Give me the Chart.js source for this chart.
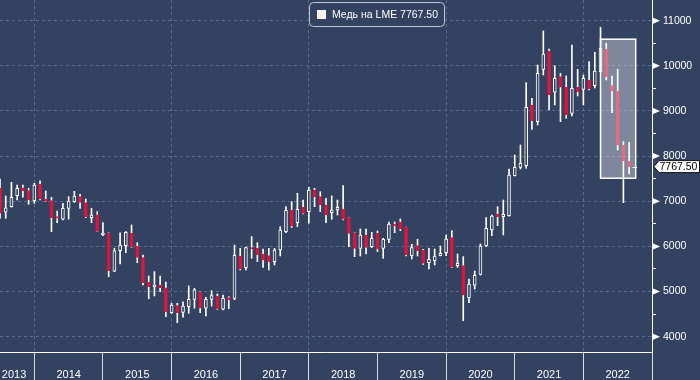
<!DOCTYPE html>
<html><head><meta charset="utf-8">
<script src="https://cdn.jsdelivr.net/npm/chart.js@4.4.0/dist/chart.umd.min.js"></script>
<style>html,body{margin:0;padding:0;background:#334261;overflow:hidden}#wrap{width:700px;height:380px;position:relative}</style>
</head><body><div id="wrap"><canvas id="c" width="700" height="380"></canvas></div>
<script>
// ---- data (monthly candles, LME copper) ----
const months = [
 '2013-06','2013-07','2013-08','2013-09','2013-10','2013-11','2013-12',
 '2014-01','2014-02','2014-03','2014-04','2014-05','2014-06','2014-07','2014-08','2014-09','2014-10','2014-11','2014-12',
 '2015-01','2015-02','2015-03','2015-04','2015-05','2015-06','2015-07','2015-08','2015-09','2015-10','2015-11','2015-12',
 '2016-01','2016-02','2016-03','2016-04','2016-05','2016-06','2016-07','2016-08','2016-09','2016-10','2016-11','2016-12',
 '2017-01','2017-02','2017-03','2017-04','2017-05','2017-06','2017-07','2017-08','2017-09','2017-10','2017-11','2017-12',
 '2018-01','2018-02','2018-03','2018-04','2018-05','2018-06','2018-07','2018-08','2018-09','2018-10','2018-11','2018-12',
 '2019-01','2019-02','2019-03','2019-04','2019-05','2019-06','2019-07','2019-08','2019-09','2019-10','2019-11','2019-12',
 '2020-01','2020-02','2020-03','2020-04','2020-05','2020-06','2020-07','2020-08','2020-09','2020-10','2020-11','2020-12',
 '2021-01','2021-02','2021-03','2021-04','2021-05','2021-06','2021-07','2021-08','2021-09','2021-10','2021-11','2021-12',
 '2022-01','2022-02','2022-03','2022-04','2022-05','2022-06','2022-07','2022-08'
];
const open = [
 7290,6756,6880,7123,7300,7234,7013,
 7383,7050,7013,6658,6605,6842,6990,7101,6968,6636,6700,6253,
 6290,5450,5905,6016,6290,6009,5750,5210,5108,5143,5085,4532,
 4688,4540,4665,4828,4984,4630,4828,4902,4607,4864,4850,5788,
 5530,5973,5958,5832,5795,5664,5921,6326,6807,6525,6866,6769,
 7249,7101,6918,6747,6807,6829,6636,6290,5958,6253,5994,6290,
 5958,6157,6481,6540,6423,5795,6016,5921,5640,5684,5795,5861,
 6194,5573,5573,4864,5144,5382,6016,6364,6718,6658,6680,7566,
 7752,7788,9133,8763,9923,10329,9414,9760,9525,8947,9525,9480,
 9686,9560,9870,10373,9560,9443,8246,7892
];
const high = [
 7490,7117,7420,7360,7360,7287,7398,
 7450,7228,7088,6784,6955,7101,7220,7154,7050,6842,6770,6525,
 6300,5960,6300,6330,6474,6083,5810,5343,5440,5343,5210,4740,
 4740,4775,5124,5070,4990,4872,5020,4946,4924,4886,6030,5958,
 5985,6218,6083,5943,5958,5958,6437,6880,6990,7177,7028,7310,
 7287,7212,7065,7117,7028,7345,6640,6300,6386,6386,6313,6342,
 6179,6540,6540,6607,6430,6046,6157,5935,5958,5943,6009,6253,
 6348,5832,5773,5278,5455,6053,6636,6696,6880,7028,7715,8025,
 8246,9627,9281,10018,10772,10373,10000,9835,9775,10462,9923,9797,
 10092,10300,10854,10500,9775,9923,8320,8306
];
const low = [
 6620,6623,6870,7028,7088,6933,6955,
 7028,6990,6326,6525,6585,6605,6977,6842,6636,6525,6326,6237,
 5330,5440,5610,5861,5980,5640,5145,4840,4902,4997,4443,4518,
 4310,4430,4518,4630,4532,4458,4680,4600,4591,4620,4820,5478,
 5478,5736,5664,5537,5478,5588,5788,6304,6420,6437,6718,6512,
 6880,6769,6525,6601,6696,6585,5994,5773,5788,5832,5973,5884,
 5736,6083,6304,6348,5788,5720,5788,5600,5500,5588,5790,5795,
 5530,5537,4355,4753,5056,5366,5994,6237,6459,6253,6670,7560,
 7715,7730,8594,8690,9797,9022,9133,8763,8838,8889,9332,9133,
 9465,9509,9860,9686,8962,8136,6968,7604
];
const close = [
 6735,6857,7088,7287,7234,7028,7360,
 7050,6995,6636,6623,6842,7006,7117,6977,6658,6696,6330,6297,
 5460,5900,6030,6313,5994,5758,5196,5108,5143,5085,4554,4702,
 4532,4680,4828,5036,4630,4828,4908,4607,4850,4820,5803,5500,
 5975,5943,5810,5700,5664,5921,6364,6798,6452,6822,6733,7249,
 7101,6918,6696,6807,6866,6601,6290,5958,6253,5980,6179,5943,
 6157,6496,6459,6386,5810,5973,5905,5625,5714,5788,5847,6164,
 5540,5625,4924,5166,5360,6009,6401,6674,6658,6711,7581,7752,
 7841,9082,8785,9835,10262,9354,9724,9525,8911,9503,9427,9724,
 9487,9886,10389,9760,9443,8246,7899,7767.5
];
const yearLabels = ['2013','2014','2015','2016','2017','2018','2019','2020','2021','2022'];
const yTickValues = [4000,4500,5000,5500,6000,6500,7000,7500,8000,8500,9000,9500,10000,10500,11000];
const seriesName = 'Медь на LME';
const highlightMonths = ['2022-03','2022-08'];
const highlightRange = [7510, 10590];

// ---- styles ----
const BG = '#334261', GRID = '#586c92', RED = '#dc143c', WHITE = '#ffffff';
const FONT = '"Liberation Sans", Arial, sans-serif';
const X_MAX = 114; // axis spans to Dec 2022

const lastClose = close[close.length - 1];
const fmt = v => v.toFixed(2);

const wickData = months.map((m, i) => ({x: i, y: [low[i], high[i]]}));
const bodyData = months.map((m, i) => ({x: i, y: [open[i], close[i]]}));

// x ticks: year separators (at each December) and year labels between them
const seps = [];
yearLabels.forEach(y => { const k = months.indexOf(y + '-12'); seps.push(k >= 0 ? k : X_MAX); });
const xTickInfo = new Map();
seps.forEach((s, j) => xTickInfo.set(s, {kind: 'sep', even: (parseInt(yearLabels[j]) + 1) % 2 === 0}));
seps.forEach((s, j) => {
  const prev = j === 0 ? 0 : seps[j - 1];
  xTickInfo.set((prev + s) / 2 - (j === 0 ? 0.55 : 0), {kind: 'label', label: yearLabels[j]});
});
const xTickVals = [...xTickInfo.keys()].sort((a, b) => a - b);

const isUp = i => close[i] >= open[i];

const decor = {
  id: 'decor',
  beforeDraw(chart) {
    const c = chart.ctx; c.save(); c.fillStyle = BG; c.fillRect(0, 0, chart.width, chart.height); c.restore();
  },
  afterDatasetsDraw(chart) {
    const c = chart.ctx, xs = chart.scales.x, ys = chart.scales.y, a = chart.chartArea;
    const x0 = xs.getPixelForValue(months.indexOf(highlightMonths[0]));
    const x1 = xs.getPixelForValue(months.indexOf(highlightMonths[1]) + 1.15);
    const y0 = ys.getPixelForValue(highlightRange[1]);
    const y1 = ys.getPixelForValue(highlightRange[0]);
    c.save();
    c.beginPath(); c.rect(a.left, a.top, a.right - a.left, a.bottom - a.top); c.clip();
    c.fillStyle = 'rgba(255,255,255,0.37)';
    c.fillRect(x0, y0, x1 - x0, y1 - y0);
    c.strokeStyle = WHITE; c.lineWidth = 1.5;
    c.strokeRect(x0, y0, x1 - x0, y1 - y0);
    // last price dash
    const yp = Math.round(ys.getPixelForValue(lastClose)) + 0.5;
    c.lineWidth = 1; c.beginPath();
    c.moveTo(xs.getPixelForValue(months.length - 1) + 3.5, yp); c.lineTo(xs.getPixelForValue(months.length - 1) + 8, yp); c.stroke();
    c.restore();
  },
  afterDraw(chart) {
    const c = chart.ctx, ys = chart.scales.y, a = chart.chartArea;
    c.save();
    // arrow markers on major ticks
    c.fillStyle = WHITE;
    yTickValues.filter(v => v % 1000 === 0).forEach(v => {
      const y = ys.getPixelForValue(v);
      c.beginPath(); c.moveTo(a.right, y - 3.5); c.lineTo(a.right + 8, y); c.lineTo(a.right, y + 3.5); c.closePath(); c.fill();
    });
    // last price label
    const yp = ys.getPixelForValue(lastClose);
    c.beginPath();
    c.moveTo(a.right + 2, yp); c.lineTo(a.right + 7, yp - 6); c.lineTo(699.5, yp - 6);
    c.lineTo(699.5, yp + 6); c.lineTo(a.right + 7, yp + 6); c.closePath();
    c.fillStyle = WHITE; c.fill(); c.strokeStyle = '#111'; c.lineWidth = 1; c.stroke();
    c.fillStyle = '#000'; c.font = '10.5px ' + FONT; c.textBaseline = 'middle'; c.textAlign = 'left';
    c.fillText(fmt(lastClose), a.right + 7.5, yp + 0.5);
    // legend box
    const lx = 309.5, ly = 2.5, lw = 135, lh = 24, r = 4;
    c.beginPath();
    c.moveTo(lx + r, ly); c.lineTo(lx + lw - r, ly); c.quadraticCurveTo(lx + lw, ly, lx + lw, ly + r);
    c.lineTo(lx + lw, ly + lh - r); c.quadraticCurveTo(lx + lw, ly + lh, lx + lw - r, ly + lh);
    c.lineTo(lx + r, ly + lh); c.quadraticCurveTo(lx, ly + lh, lx, ly + lh - r);
    c.lineTo(lx, ly + r); c.quadraticCurveTo(lx, ly, lx + r, ly); c.closePath();
    c.fillStyle = BG; c.fill(); c.strokeStyle = '#c3c8d2'; c.lineWidth = 1; c.stroke();
    c.fillStyle = '#fdf1ee'; c.fillRect(317, 10, 9, 9);
    c.fillStyle = WHITE; c.font = '10.5px ' + FONT;
    c.fillText(seriesName + ' ' + fmt(lastClose), 332, 15.5);
    c.restore();
  }
};

new Chart(document.getElementById('c'), {
  type: 'bar',
  data: {
    datasets: [
      {
        label: seriesName, data: bodyData, order: 0, grouped: false, barThickness: 3, minBarLength: 1.5,
        borderSkipped: false, borderWidth: 1,
        backgroundColor: ctx => isUp(ctx.dataIndex) ? BG : RED,
        borderColor: ctx => isUp(ctx.dataIndex) ? WHITE : RED
      },
      {
        label: 'wick', data: wickData, order: 1, grouped: false, barThickness: 1,
        backgroundColor: WHITE, borderWidth: 0
      }
    ]
  },
  options: {
    responsive: false, animation: false, devicePixelRatio: 1,
    layout: {padding: 0},
    plugins: {legend: {display: false}, tooltip: {enabled: false}},
    scales: {
      x: {
        type: 'linear', position: 'bottom', min: 0, max: X_MAX, offset: false,
        afterBuildTicks: s => { s.ticks = xTickVals.map(v => ({value: v})); },
        afterFit: s => { s.height = 28; s.paddingLeft = 0; s.paddingRight = 0; },
        grid: {
          offset: false, drawOnChartArea: true, tickLength: 28, lineWidth: 1,
          color: ctx => { const t = ctx.tick && xTickInfo.get(ctx.tick.value); return t && t.kind === 'sep' && t.even ? GRID : 'rgba(0,0,0,0)'; },
          tickColor: ctx => { const t = ctx.tick && xTickInfo.get(ctx.tick.value); return t && t.kind === 'sep' ? '#d9dce3' : 'rgba(0,0,0,0)'; }
        },
        border: {display: true, color: WHITE, width: 1, dash: [3, 3]},
        ticks: {
          autoSkip: false, maxRotation: 0, minRotation: 0, padding: -12,
          color: WHITE, font: {family: FONT, size: 11},
          callback: v => { const t = xTickInfo.get(v); return t && t.kind === 'label' ? t.label : ''; }
        }
      },
      y: {
        type: 'linear', position: 'right', min: 3661, max: 11458,
        afterBuildTicks: s => { s.ticks = yTickValues.map(v => ({value: v})); },
        afterFit: s => { s.width = 48; s.paddingTop = 0; s.paddingBottom = 0; },
        grid: {
          tickLength: 4, lineWidth: 1, tickColor: WHITE,
          color: ctx => ctx.tick && ctx.tick.value % 1000 === 0 ? GRID : 'rgba(0,0,0,0)'
        },
        border: {display: true, color: WHITE, width: 1, dash: [3, 3]},
        ticks: {
          padding: 7, color: WHITE, font: {family: FONT, size: 10.5},
          callback: v => v % 1000 === 0 ? String(v) : ''
        }
      }
    }
  },
  plugins: [decor]
});
</script>
</body></html>
